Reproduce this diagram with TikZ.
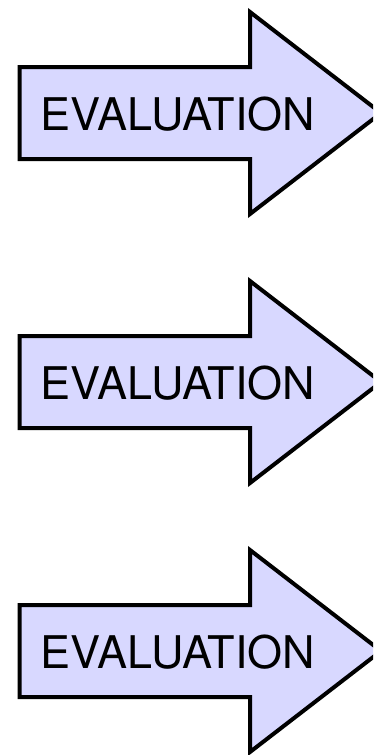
\documentclass[tikz,border=0pt]{standalone}
\usepackage{fontspec}
\setmainfont{TeX Gyre Heros}
\definecolor{arrowfill}{RGB}{216,216,255}
\begin{document}
\begin{tikzpicture}[x=1pt,y=-1pt,
  arrowbody/.style={draw=black,fill=arrowfill,line width=4pt,line join=miter},
  arrowlabel/.style={font=\fontsize{45}{45}\selectfont,inner sep=0pt}]
\useasboundingbox (0,0) rectangle (373,755);
\clip (0,0) rectangle (373,755);
% three identical block arrows, each carrying its label
\foreach \cy [count=\i] in {113,382,651} {
  \draw[arrowbody] (19.5,\cy-46) -- (250,\cy-46) -- (250,\cy-101) -- (381,\cy)
    -- (250,\cy+101) -- (250,\cy+46) -- (19.5,\cy+46) -- cycle;
  \node[arrowlabel,anchor=base] (label\i) at (178,\cy+17) {EVALUATION};
}
\end{tikzpicture}
\end{document}
